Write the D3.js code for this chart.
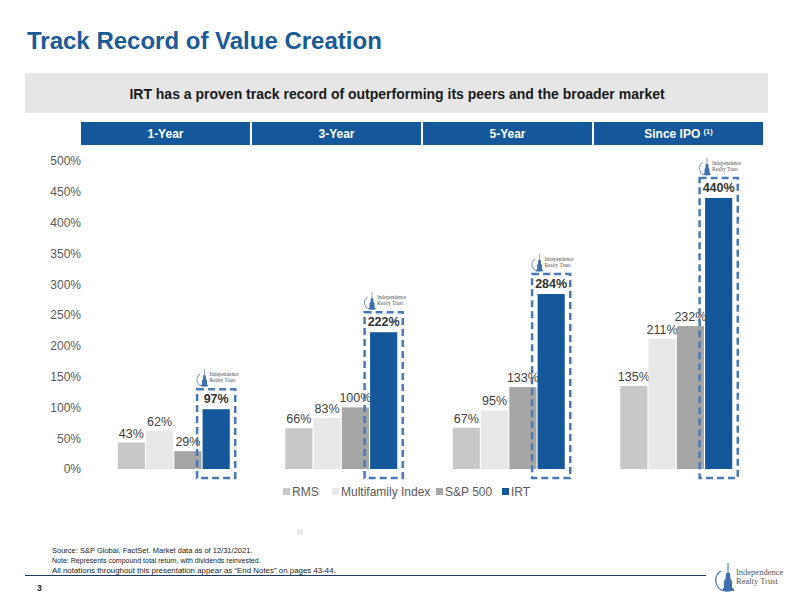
<!DOCTYPE html>
<html>
<head>
<meta charset="utf-8">
<script src="https://cdn.jsdelivr.net/npm/d3@7"></script>
<style>
body{margin:0;background:#fff;}
svg{font-family:"Liberation Sans",Arial,sans-serif;display:block;}
</style>
</head>
<body>
<svg id="chart" width="793" height="596"></svg>
<script>
// data
const periods = ["1-Year", "3-Year", "5-Year", "Since IPO"];
const seriesNames = ["RMS", "Multifamily Index", "S&P 500", "IRT"];
const rms = [43, 66, 67, 135];
const multifamily = [62, 83, 95, 211];
const sp500 = [29, 100, 133, 232];
const irt = [97, 222, 284, 440];
const yTicks = [0, 50, 100, 150, 200, 250, 300, 350, 400, 450, 500];
const colors = ["#c8c8c8", "#e8e8e8", "#a6a6a6", "#14579a"];
const footNotes = [
  "Source: S&P Global, FactSet. Market data as of 12/31/2021.",
  "Note: Represents compound total return, with dividends reinvested.",
  "All notations throughout this presentation appear as \u201cEnd Notes\u201d on pages 43-44."
];
const footSizes = [7.5, 7.0, 7.9];

const seriesVals = [rms, multifamily, sp500, irt];
const svg = d3.select("#chart");
const blue = "#1a5a96";

// title
svg.append("text").attr("x", 27).attr("y", 49)
  .attr("font-size", 24).attr("font-weight", "bold").attr("fill", blue)
  .text("Track Record of Value Creation");

// grey banner
svg.append("rect").attr("x", 25).attr("y", 73).attr("width", 743).attr("height", 40).attr("fill", "#e6e6e6");
svg.append("text").attr("x", 397).attr("y", 99).attr("text-anchor", "middle")
  .attr("font-size", 14).attr("font-weight", "bold").attr("fill", "#1a1a1a")
  .text("IRT has a proven track record of outperforming its peers and the broader market");

// period headers
const hx = d3.scaleBand().domain(periods).range([81, 763]).paddingInner(0.012);
const hdr = svg.append("g").selectAll("g").data(periods).join("g");
hdr.append("rect").attr("x", d => hx(d)).attr("y", 122).attr("width", hx.bandwidth()).attr("height", 23).attr("fill", "#14579a");
const ht = hdr.append("text").attr("x", d => hx(d) + hx.bandwidth() / 2).attr("y", 138)
  .attr("text-anchor", "middle").attr("font-size", 12).attr("font-weight", "bold").attr("fill", "#fff");
ht.append("tspan").text(d => d === "Since IPO" ? "Since IPO " : d);
ht.filter(d => d === "Since IPO").append("tspan").attr("font-size", 7.5).attr("dy", -4).text("(1)");

// scales
const x0 = d3.scaleBand().domain(periods).range([90, 760]);
const x1 = d3.scaleBand().domain(seriesNames).range([x0.bandwidth() / 2 - 56, x0.bandwidth() / 2 + 56]).paddingInner(0.04);
const y = d3.scaleLinear().domain([0, 500]).range([469, 161]);

// y axis (labels only)
const yAxis = svg.append("g").attr("transform", "translate(81,0)")
  .call(d3.axisLeft(y).tickValues(yTicks).tickSize(0).tickPadding(0).tickFormat(d => d + "%"));
yAxis.select(".domain").remove();
yAxis.selectAll("text").attr("font-size", 12).attr("fill", "#595959").attr("font-family", "Liberation Sans, Arial, sans-serif");

// bars
const groups = svg.append("g").selectAll("g").data(periods).join("g")
  .attr("transform", d => `translate(${x0(d)},0)`);

groups.each(function (p, pi) {
  const g = d3.select(this);
  seriesNames.forEach((s, si) => {
    const v = seriesVals[si][pi];
    const bx = x1(s), bw = x1.bandwidth();
    g.append("rect").attr("x", bx).attr("y", y(v)).attr("width", bw).attr("height", y(0) - y(v)).attr("fill", colors[si]);
    const isIrt = s === "IRT";
    g.append("text").attr("x", bx + bw / 2).attr("y", y(v) - (isIrt ? 6 : 5))
      .attr("text-anchor", "middle").attr("font-size", 12.5)
      .attr("font-weight", isIrt ? "bold" : "normal").attr("fill", isIrt ? "#333" : "#404040")
      .text(v + "%");
    if (isIrt) {
      const top = y(v) - 20;
      g.append("rect").attr("x", bx - 5.5).attr("y", top).attr("width", bw + 11).attr("height", 478 - top)
        .attr("fill", "none").attr("stroke", "#4a79b6").attr("stroke-width", 2.5).attr("stroke-dasharray", "7,4");
      drawLogo(g, bx - 8, top - 19, 0.62);
    }
  });
});

function drawLogo(g, lx, ly, s) {
  const lg = g.append("g").attr("transform", `translate(${lx},${ly}) scale(${s})`);
  lg.append("path").attr("d", "M9,6 A11,11 0 0,0 12,26").attr("fill", "none").attr("stroke", "#3f6fae").attr("stroke-width", 1.2);
  lg.append("path").attr("d", "M13,26 A12,12 0 0,0 22,24").attr("fill", "none").attr("stroke", "#3f6fae").attr("stroke-width", 1.2);
  lg.append("line").attr("x1", 16).attr("x2", 16).attr("y1", -2).attr("y2", 8).attr("stroke", "#3f6fae").attr("stroke-width", 1);
  lg.append("path").attr("d", "M14,8 L18,8 L18.5,14 L20,16 L20,22 L22,26 L10,26 L12,22 L12,16 L13.5,14 Z").attr("fill", "#3f6fae");
  lg.append("text").attr("x", 24).attr("y", 10).attr("font-family", "Liberation Serif, serif").attr("font-size", 8.5).attr("fill", "#555").text("Independence");
  lg.append("text").attr("x", 24).attr("y", 19).attr("font-family", "Liberation Serif, serif").attr("font-size", 8.5).attr("fill", "#555").text("Realty Trust");
}

// legend
const legX = [283, 332, 436, 502];
const leg = svg.append("g").selectAll("g").data(seriesNames).join("g")
  .attr("transform", (d, i) => `translate(${legX[i]},488)`);
leg.append("rect").attr("width", 7).attr("height", 7).attr("fill", (d, i) => colors[i]);
leg.append("text").attr("x", 9).attr("y", 8).attr("font-size", 12).attr("fill", "#595959").text(d => d);

// stray marker under legend
svg.append("rect").attr("x", 297).attr("y", 529).attr("width", 6).attr("height", 6).attr("fill", "#eaeaea");

// footnotes
svg.append("g").selectAll("text").data(footNotes).join("text")
  .attr("x", 52).attr("y", (d, i) => 553 + i * 10)
  .attr("font-size", (d, i) => footSizes[i]).attr("fill", "#222").text(d => d);

svg.append("line").attr("x1", 25).attr("x2", 706).attr("y1", 575.5).attr("y2", 575.5).attr("stroke", "#1f3a5f").attr("stroke-width", 1);
svg.append("text").attr("x", 37).attr("y", 591).attr("font-size", 8.5).attr("font-weight", "bold").attr("fill", "#222").text("3");

// bottom right logo
drawLogo(svg, 712, 565, 1.0);
</script>
</body>
</html>
